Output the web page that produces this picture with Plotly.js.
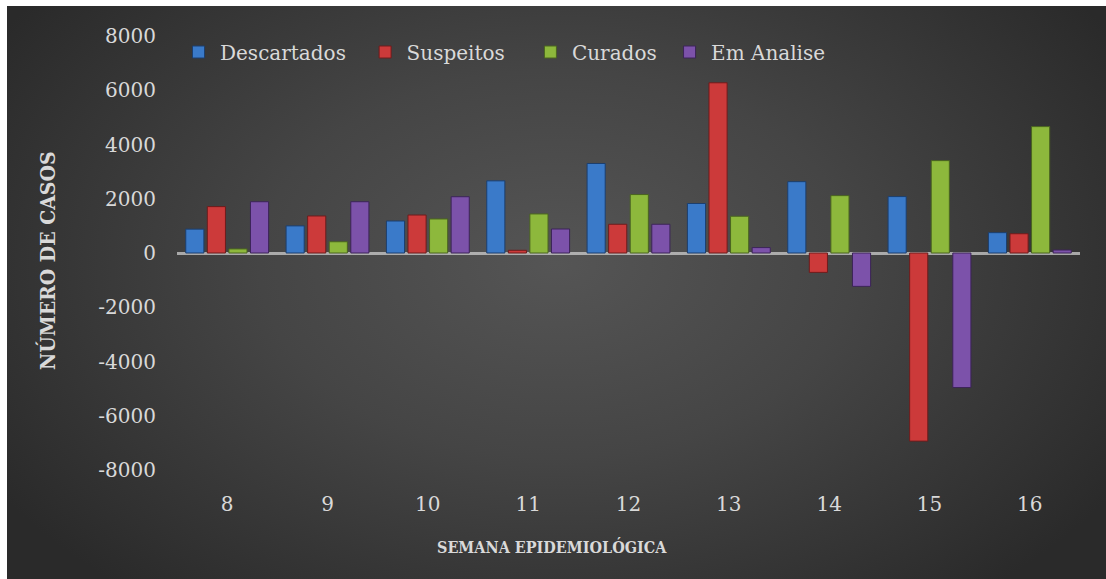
<!DOCTYPE html>
<html>
<head>
<meta charset="utf-8">
<script src="https://cdn.plot.ly/plotly-3.0.1.min.js"></script>
<style>
  html, body { margin: 0; padding: 0; background: #ffffff; }
  #bg { position: absolute; left: 7px; top: 6px; width: 1099px; height: 573px;
        background: radial-gradient(ellipse 60% 75% at 50% 45%, #555555 0%, #454545 45%, #2a2a2a 100%); }
  #chart { position: absolute; left: 0; top: 0; width: 1106px; height: 579px; }
</style>
</head>
<body>
<div id="bg"></div>
<div id="chart"></div>
<script>
const semanas = ['8', '9', '10', '11', '12', '13', '14', '15', '16'];
const descartados = [880, 1000, 1180, 2660, 3300, 1825, 2630, 2080, 750];
const suspeitos = [1710, 1365, 1400, 100, 1060, 6275, -715, -6935, 710];
const curados = [150, 415, 1255, 1440, 2155, 1355, 2115, 3405, 4660];
const emAnalise = [1890, 1890, 2075, 885, 1060, 200, -1230, -4960, 110];
const yTicks = [-8000, -6000, -4000, -2000, 0, 2000, 4000, 6000, 8000];

// trailing no-break spaces only widen the legend entries (spacing like the original)
const series = [
  {name: 'Descartados', pad: '\u00a0\u00a0', y: descartados, color: '#3a7ac9', line: '#1c3f6e'},
  {name: 'Suspeitos', pad: '\u00a0\u00a0\u00a0', y: suspeitos, color: '#cc3a3a', line: '#6e1c1c'},
  {name: 'Curados', pad: '\u00a0', y: curados, color: '#8db83c', line: '#4a6420'},
  {name: 'Em Analise', pad: '', y: emAnalise, color: '#7c52aa', line: '#3c2458'}
];

const FONT = 'DejaVu Serif, Liberation Serif, serif';
const traces = series.map(s => ({
  type: 'bar',
  name: s.name + s.pad,
  x: semanas,
  y: s.y,
  marker: {color: s.color, line: {color: s.line, width: 1}},
  hoverinfo: 'x+y+name'
}));

const layout = {
  width: 1106, height: 579,
  paper_bgcolor: 'rgba(0,0,0,0)',
  plot_bgcolor: 'rgba(0,0,0,0)',
  margin: {l: 177, r: 26, t: 36, b: 109},
  barmode: 'group',
  bargap: 0.14,
  bargroupgap: 0.16,
  font: {family: FONT, color: '#d9d9d9', size: 20},
  showlegend: true,
  legend: {
    orientation: 'h', x: 0, y: (470 - 52) / 434, xanchor: 'left', yanchor: 'middle',
    font: {family: FONT, size: 20, color: '#d9d9d9'},
    bgcolor: 'rgba(0,0,0,0)', traceorder: 'normal',
    itemwidth: 33
  },
  xaxis: {
    type: 'category',
    showgrid: false, zeroline: false, showline: false, ticks: '',
    tickfont: {family: FONT, size: 20, color: '#d9d9d9'},
    ticklabelstandoff: 20
  },
  yaxis: {
    range: [-8000, 8000],
    tickvals: yTicks,
    ticktext: yTicks.map(String),
    showgrid: false, showline: false, ticks: '',
    zeroline: true, zerolinecolor: 'rgba(205,205,205,0.75)', zerolinewidth: 3,
    layer: 'above traces',
    tickfont: {family: FONT, size: 20, color: '#d9d9d9'},
    ticklabelstandoff: 20
  },
  annotations: [
    {text: '<b>NÚMERO DE CASOS</b>', xref: 'paper', yref: 'paper',
     x: (47 - 177) / 903, y: (470 - 261) / 434, xanchor: 'center', yanchor: 'middle',
     textangle: -90, showarrow: false,
     font: {family: 'DejaVu Serif Condensed, DejaVu Serif, serif', size: 21, color: '#d9d9d9'}},
    {text: '<b>SEMANA EPIDEMIOLÓGICA</b>', xref: 'paper', yref: 'paper',
     x: (552 - 177) / 903, y: (470 - 547) / 434, xanchor: 'center', yanchor: 'middle',
     showarrow: false,
     font: {family: 'DejaVu Serif Condensed, DejaVu Serif, serif', size: 16, color: '#d9d9d9'}}
  ]
};

Plotly.newPlot('chart', traces, layout, {displayModeBar: false, staticPlot: true});
</script>
</body>
</html>
